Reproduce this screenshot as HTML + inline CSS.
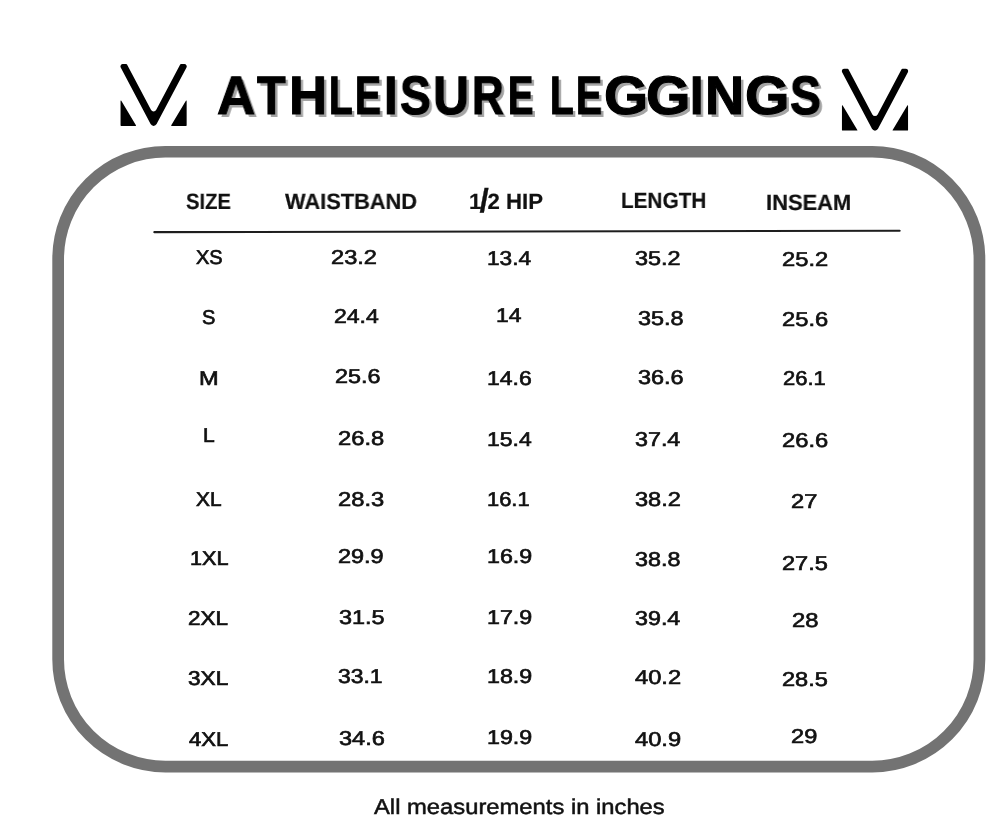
<!DOCTYPE html>
<html lang="en"><head><meta charset="utf-8"><title>Athleisure Leggings Size Chart</title>
<style>
html,body{margin:0;padding:0;background:#fff;}
body{width:1006px;height:828px;position:relative;overflow:hidden;}
span{position:absolute;white-space:pre;color:#111;transform-origin:0 0;will-change:transform;}
h1{margin:0;padding:0;}
.h{font:bold 22.2px 'Liberation Sans',sans-serif;-webkit-text-stroke:0.2px #111;text-rendering:geometricPrecision;}
.c{font:20px 'Liberation Sans',sans-serif;-webkit-text-stroke:0.7px #111;text-rendering:geometricPrecision;}
.n{font:20px 'Liberation Sans',sans-serif;-webkit-text-stroke:0.65px #111;text-rendering:geometricPrecision;}
.f{font:21.5px 'Liberation Sans',sans-serif;-webkit-text-stroke:0.5px #111;text-rendering:geometricPrecision;}
.t,.t span{font:bold 54px 'Liberation Sans',sans-serif;-webkit-text-stroke:1.1px #000;text-rendering:geometricPrecision;color:#000;}
.sp{position:static;}
.sl{position:static;display:inline-block;transform:scale(1.5,1.5);transform-origin:50% 52%;will-change:auto;}
.art{position:absolute;left:0;top:0;}
</style></head>
<body>
<svg class="art" width="1006" height="828" viewBox="0 0 1006 828"><rect x="58.15" y="151.75" width="921.3" height="614.8" rx="107.2" ry="107.2" fill="none" stroke="#737373" stroke-width="11.7"/><line x1="154.35" y1="232.15" x2="899.65" y2="230.75" stroke="#1e1e1e" stroke-width="2.1" stroke-linecap="round"/><path transform="translate(118,63)" d="M2.71,4.52 A2.4,2.4 0 0 1 4.83,1.00 L8.15,1.00 A1.0,1.0 0 0 1 9.03,1.53 L32.95,46.83 A3.0,3.0 0 0 0 38.25,46.83 L62.17,1.53 A1.0,1.0 0 0 1 63.05,1.00 L66.37,1.00 A2.4,2.4 0 0 1 68.49,4.52 L38.61,61.12 A3.4,3.4 0 0 1 32.59,61.12 Z M3.29,37.75 A0.4,0.4 0 0 0 2.55,37.95 L2.55,62.30 A0.6,0.6 0 0 0 3.15,62.90 L17.60,62.90 A0.4,0.4 0 0 0 17.94,62.30 Z M53.26,62.30 A0.4,0.4 0 0 0 53.60,62.90 L68.05,62.90 A0.6,0.6 0 0 0 68.65,62.30 L68.65,37.95 A0.4,0.4 0 0 0 67.91,37.75 Z" fill="#000"/><path transform="translate(839.4,67.7)" d="M2.71,4.52 A2.4,2.4 0 0 1 4.83,1.00 L8.15,1.00 A1.0,1.0 0 0 1 9.03,1.53 L32.95,46.83 A3.0,3.0 0 0 0 38.25,46.83 L62.17,1.53 A1.0,1.0 0 0 1 63.05,1.00 L66.37,1.00 A2.4,2.4 0 0 1 68.49,4.52 L38.61,61.12 A3.4,3.4 0 0 1 32.59,61.12 Z M3.29,37.75 A0.4,0.4 0 0 0 2.55,37.95 L2.55,62.30 A0.6,0.6 0 0 0 3.15,62.90 L17.60,62.90 A0.4,0.4 0 0 0 17.94,62.30 Z M53.26,62.30 A0.4,0.4 0 0 0 53.60,62.90 L68.05,62.90 A0.6,0.6 0 0 0 68.65,62.30 L68.65,37.95 A0.4,0.4 0 0 0 67.91,37.75 Z" fill="#000"/></svg>
<span class="h" style="left:186.04px;top:188.88px;transform:scaleX(0.9104)">SIZE</span>
<span class="h" style="left:285.00px;top:188.88px;transform:scaleX(0.9831)">WAISTBAND</span>
<span class="h" style="left:468.75px;top:188.50px;transform:scaleX(1.0000)">1<span class="sl">/</span>2 HIP</span>
<span class="h" style="left:620.60px;top:188.12px;transform:scaleX(0.9348)">LENGTH</span>
<span class="h" style="left:766.02px;top:189.62px;transform:scaleX(0.9880)">INSEAM</span>
<span class="c" style="left:195.75px;top:246.62px;transform:scaleX(1.0000)">XS</span>
<span class="c" style="left:201.87px;top:307.12px;transform:scaleX(1.0020)">S</span>
<span class="c" style="left:199.03px;top:368.25px;transform:scaleX(1.1786)">M</span>
<span class="c" style="left:202.93px;top:425.25px;transform:scaleX(1.0526)">L</span>
<span class="c" style="left:196.25px;top:488.50px;transform:scaleX(1.0417)">XL</span>
<span class="c" style="left:189.90px;top:547.88px;transform:scaleX(1.0809)">1XL</span>
<span class="c" style="left:188.41px;top:608.38px;transform:scaleX(1.1232)">2XL</span>
<span class="c" style="left:187.81px;top:668.38px;transform:scaleX(1.1302)">3XL</span>
<span class="c" style="left:189.25px;top:728.62px;transform:scaleX(1.0993)">4XL</span>
<span class="n" style="left:331.12px;top:246.62px;transform:scaleX(1.1800)">23.2</span>
<span class="n" style="left:334.14px;top:306.38px;transform:scaleX(1.1513)">24.4</span>
<span class="n" style="left:335.38px;top:366.38px;transform:scaleX(1.1667)">25.6</span>
<span class="n" style="left:338.36px;top:428.12px;transform:scaleX(1.1867)">26.8</span>
<span class="n" style="left:338.36px;top:489.38px;transform:scaleX(1.1867)">28.3</span>
<span class="n" style="left:338.37px;top:545.62px;transform:scaleX(1.1733)">29.9</span>
<span class="n" style="left:338.66px;top:606.88px;transform:scaleX(1.1711)">31.5</span>
<span class="n" style="left:337.80px;top:665.75px;transform:scaleX(1.1464)">33.1</span>
<span class="n" style="left:338.66px;top:728.38px;transform:scaleX(1.1788)">34.6</span>
<span class="n" style="left:487.33px;top:248.38px;transform:scaleX(1.1333)">13.4</span>
<span class="n" style="left:496.07px;top:305.25px;transform:scaleX(1.1446)">14</span>
<span class="n" style="left:487.31px;top:367.62px;transform:scaleX(1.1486)">14.6</span>
<span class="n" style="left:486.82px;top:429.00px;transform:scaleX(1.1467)">15.4</span>
<span class="n" style="left:486.88px;top:489.12px;transform:scaleX(1.0946)">16.1</span>
<span class="n" style="left:486.80px;top:545.62px;transform:scaleX(1.1622)">16.9</span>
<span class="n" style="left:486.80px;top:607.25px;transform:scaleX(1.1622)">17.9</span>
<span class="n" style="left:486.80px;top:666.38px;transform:scaleX(1.1622)">18.9</span>
<span class="n" style="left:486.80px;top:727.00px;transform:scaleX(1.1622)">19.9</span>
<span class="n" style="left:635.16px;top:248.00px;transform:scaleX(1.1722)">35.2</span>
<span class="n" style="left:638.16px;top:308.38px;transform:scaleX(1.1722)">35.8</span>
<span class="n" style="left:638.16px;top:366.62px;transform:scaleX(1.1722)">36.6</span>
<span class="n" style="left:634.92px;top:428.75px;transform:scaleX(1.1634)">37.4</span>
<span class="n" style="left:634.91px;top:488.88px;transform:scaleX(1.1788)">38.2</span>
<span class="n" style="left:634.92px;top:548.88px;transform:scaleX(1.1656)">38.8</span>
<span class="n" style="left:634.92px;top:608.38px;transform:scaleX(1.1634)">39.4</span>
<span class="n" style="left:634.70px;top:667.00px;transform:scaleX(1.1842)">40.2</span>
<span class="n" style="left:634.70px;top:728.88px;transform:scaleX(1.1842)">40.9</span>
<span class="n" style="left:782.11px;top:249.12px;transform:scaleX(1.1867)">25.2</span>
<span class="n" style="left:782.11px;top:309.12px;transform:scaleX(1.1867)">25.6</span>
<span class="n" style="left:782.92px;top:367.62px;transform:scaleX(1.1000)">26.1</span>
<span class="n" style="left:782.11px;top:430.12px;transform:scaleX(1.1867)">26.6</span>
<span class="n" style="left:790.86px;top:491.38px;transform:scaleX(1.1807)">27</span>
<span class="n" style="left:782.12px;top:553.12px;transform:scaleX(1.1788)">27.5</span>
<span class="n" style="left:791.61px;top:610.12px;transform:scaleX(1.1905)">28</span>
<span class="n" style="left:782.12px;top:668.88px;transform:scaleX(1.1788)">28.5</span>
<span class="n" style="left:790.86px;top:726.38px;transform:scaleX(1.1807)">29</span>
<span class="f" style="left:374.28px;top:794.75px;transform:scaleX(1.1059)">All measurements in inches</span>
<h1 class="t"><span style="left:216.87px;top:65.01px;transform:scale(0.9787,1.0039);text-shadow:2.96px 2.49px 0.5px #a4a4a4">A</span><span style="left:257.40px;top:65.01px;transform:scale(0.8667,1.0039);text-shadow:3.35px 2.49px 0.5px #a4a4a4">T</span><span style="left:288.77px;top:65.01px;transform:scale(0.9758,1.0039);text-shadow:2.97px 2.49px 0.5px #a4a4a4">H</span><span style="left:329.35px;top:65.01px;transform:scale(0.7165,1.0039);text-shadow:4.05px 2.49px 0.5px #a4a4a4">L</span><span style="left:354.83px;top:65.01px;transform:scale(0.7238,1.0039);text-shadow:4.01px 2.49px 0.5px #a4a4a4">E</span><span style="left:383.80px;top:65.01px;transform:scale(0.9000,1.0039);text-shadow:3.22px 2.49px 0.5px #a4a4a4">I</span><span style="left:399.95px;top:65.01px;transform:scale(0.8537,1.0039);text-shadow:3.40px 2.49px 0.5px #a4a4a4">S</span><span style="left:433.16px;top:65.01px;transform:scale(0.9254,1.0039);text-shadow:3.13px 2.49px 0.5px #a4a4a4">U</span><span style="left:471.96px;top:65.01px;transform:scale(0.8140,1.0039);text-shadow:3.56px 2.49px 0.5px #a4a4a4">R</span><span style="left:508.08px;top:65.01px;transform:scale(0.7079,1.0039);text-shadow:4.10px 2.49px 0.5px #a4a4a4">E</span><span class="sp"> </span><span style="left:550.45px;top:65.01px;transform:scale(0.7165,1.0039);text-shadow:4.05px 2.49px 0.5px #a4a4a4">L</span><span style="left:575.93px;top:65.01px;transform:scale(0.7238,1.0039);text-shadow:4.01px 2.49px 0.5px #a4a4a4">E</span><span style="left:603.96px;top:65.01px;transform:scale(1.0507,1.0039);text-shadow:2.76px 2.49px 0.5px #a4a4a4">G</span><span style="left:646.45px;top:65.01px;transform:scale(1.0587,1.0039);text-shadow:2.74px 2.49px 0.5px #a4a4a4">G</span><span style="left:690.43px;top:65.01px;transform:scale(0.8889,1.0039);text-shadow:3.26px 2.49px 0.5px #a4a4a4">I</span><span style="left:705.49px;top:65.01px;transform:scale(1.0030,1.0039);text-shadow:2.89px 2.49px 0.5px #a4a4a4">N</span><span style="left:745.45px;top:65.01px;transform:scale(1.0587,1.0039);text-shadow:2.74px 2.49px 0.5px #a4a4a4">G</span><span style="left:789.64px;top:65.01px;transform:scale(0.8567,1.0039);text-shadow:3.39px 2.49px 0.5px #a4a4a4">S</span></h1>
</body></html>
